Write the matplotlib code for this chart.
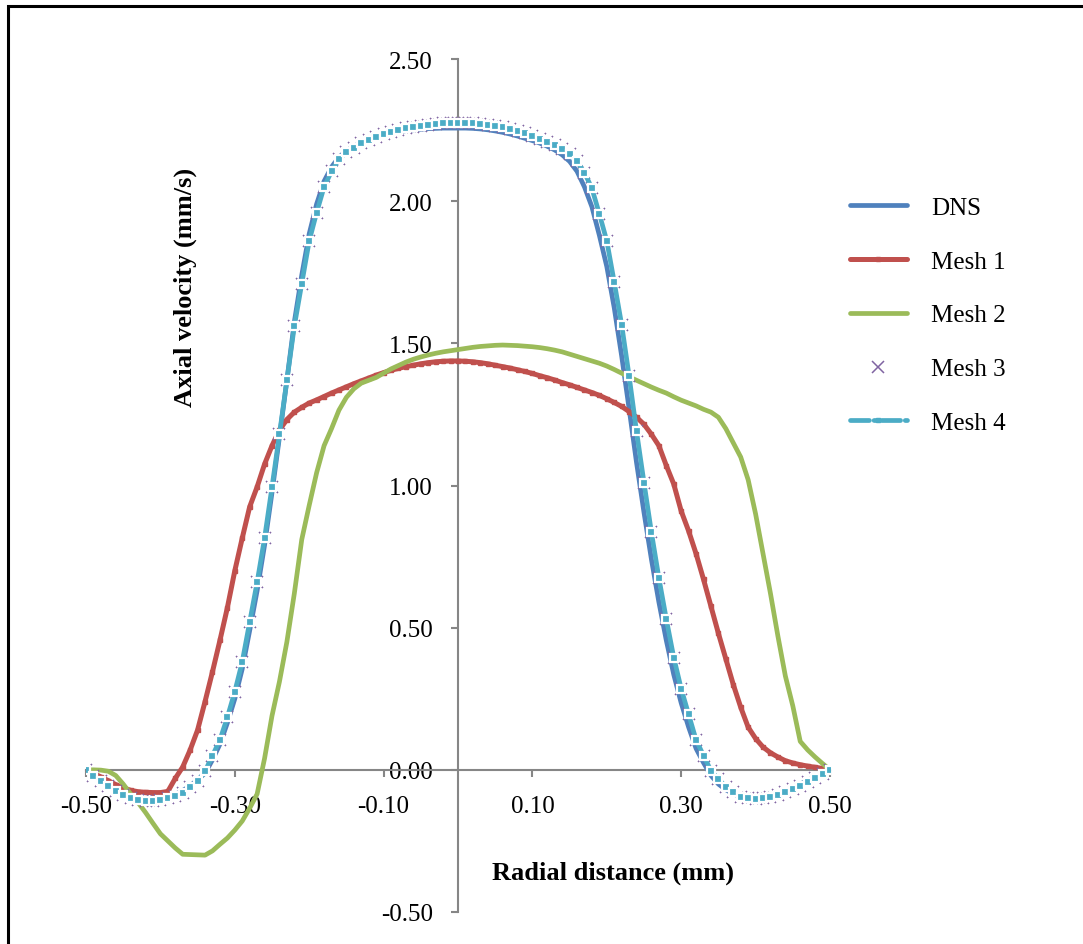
import numpy as np
import matplotlib
matplotlib.use("Agg")
import matplotlib.pyplot as plt
from matplotlib.lines import Line2D
from matplotlib.patches import Rectangle

plt.rcParams['font.family'] = ['Liberation Serif', 'DejaVu Serif']

# radial positions, 0.01 mm step
radial = np.round(np.arange(-50, 51) / 100.0, 2)

dns = [0.000, -0.018, -0.037, -0.055, -0.071, -0.085, -0.096, -0.103, -0.106, -0.106,
       -0.103, -0.096, -0.086, -0.073, -0.056, -0.035, -0.012, 0.035, 0.090, 0.165,
       0.250, 0.355, 0.490, 0.630, 0.790, 0.975, 1.170, 1.370, 1.575, 1.740,
       1.885, 1.990, 2.070, 2.120, 2.155, 2.177, 2.193, 2.206, 2.217, 2.226,
       2.233, 2.239, 2.244, 2.248, 2.251, 2.253, 2.255, 2.256, 2.257, 2.257,
       2.257, 2.257, 2.256, 2.254, 2.251, 2.247, 2.242, 2.236, 2.229, 2.221,
       2.213, 2.204, 2.193, 2.180, 2.163, 2.140, 2.105, 2.050, 1.980, 1.880,
       1.770, 1.625, 1.455, 1.270, 1.080, 0.905, 0.740, 0.590, 0.455, 0.335,
       0.235, 0.150, 0.075, 0.025, -0.020, -0.050, -0.070, -0.085, -0.094, -0.099,
       -0.100, -0.097, -0.091, -0.083, -0.073, -0.062, -0.050, -0.037, -0.025, -0.012,
       0.000]

mesh1 = [0.000, -0.012, -0.025, -0.038, -0.052, -0.063, -0.072, -0.077, -0.079, -0.080,
         -0.080, -0.076, -0.030, 0.010, 0.070, 0.140, 0.240, 0.345, 0.455, 0.570,
         0.700, 0.815, 0.925, 0.995, 1.075, 1.140, 1.195, 1.232, 1.258, 1.275,
         1.290, 1.301, 1.313, 1.325, 1.336, 1.347, 1.358, 1.368, 1.378, 1.388,
         1.397, 1.405, 1.412, 1.418, 1.423, 1.428, 1.432, 1.435, 1.437, 1.438,
         1.438, 1.437, 1.435, 1.432, 1.428, 1.423, 1.418, 1.413, 1.407, 1.401,
         1.394, 1.386, 1.379, 1.371, 1.362, 1.354, 1.345, 1.336, 1.327, 1.317,
         1.305, 1.292, 1.278, 1.260, 1.240, 1.215, 1.180, 1.140, 1.070, 1.005,
         0.910, 0.840, 0.760, 0.670, 0.575, 0.480, 0.390, 0.300, 0.220, 0.150,
         0.110, 0.080, 0.060, 0.045, 0.032, 0.024, 0.018, 0.013, 0.009, 0.005,
         0.000]

mesh2 = [0.000, 0.000, -0.001, -0.005, -0.020, -0.050, -0.085, -0.115, -0.150, -0.188,
         -0.225, -0.250, -0.275, -0.297, -0.298, -0.299, -0.300, -0.285, -0.262, -0.240,
         -0.212, -0.180, -0.135, -0.085, 0.040, 0.190, 0.310, 0.450, 0.620, 0.810,
         0.930, 1.045, 1.140, 1.200, 1.265, 1.310, 1.340, 1.360, 1.370, 1.380,
         1.395, 1.410, 1.422, 1.434, 1.444, 1.452, 1.459, 1.465, 1.470, 1.474,
         1.478, 1.482, 1.486, 1.489, 1.491, 1.493, 1.494, 1.493, 1.492, 1.490,
         1.488, 1.485, 1.481, 1.476, 1.470, 1.462, 1.454, 1.446, 1.438, 1.430,
         1.420, 1.408, 1.395, 1.382, 1.370, 1.358, 1.346, 1.335, 1.325, 1.312,
         1.300, 1.290, 1.280, 1.268, 1.258, 1.240, 1.200, 1.150, 1.100, 1.020,
         0.900, 0.760, 0.620, 0.470, 0.330, 0.225, 0.100, 0.070, 0.045, 0.022,
         0.000]

mesh4 = [0.000, -0.020, -0.040, -0.057, -0.074, -0.088, -0.099, -0.106, -0.109, -0.109,
         -0.106, -0.100, -0.091, -0.080, -0.060, -0.040, -0.005, 0.050, 0.105, 0.185,
         0.275, 0.380, 0.520, 0.660, 0.815, 0.995, 1.180, 1.370, 1.560, 1.710,
         1.860, 1.960, 2.050, 2.105, 2.148, 2.172, 2.188, 2.203, 2.216, 2.226,
         2.235, 2.243, 2.250, 2.256, 2.261, 2.265, 2.269, 2.272, 2.274, 2.275,
         2.275, 2.275, 2.274, 2.272, 2.269, 2.265, 2.260, 2.254, 2.247, 2.239,
         2.230, 2.220, 2.208, 2.196, 2.182, 2.165, 2.140, 2.100, 2.045, 1.955,
         1.860, 1.715, 1.565, 1.385, 1.190, 1.010, 0.835, 0.675, 0.530, 0.395,
         0.285, 0.195, 0.105, 0.050, -0.003, -0.032, -0.060, -0.078, -0.094, -0.100,
         -0.103, -0.100, -0.097, -0.090, -0.079, -0.068, -0.056, -0.043, -0.028, -0.013,
         0.000]

# Mesh 3 sits on top of Mesh 4 everywhere in the picture
mesh3 = list(mesh4)

c_dns, c_m1, c_m2, c_m3, c_m4 = '#4F81BD', '#C0504D', '#9BBB59', '#8064A2', '#4BACC6'
grey = '#868686'

fig = plt.figure(figsize=(10.83, 9.45), dpi=100)
ax = fig.add_axes([86 / 1083, 32 / 945, 744 / 1083, 853 / 945])

ax.plot(radial, dns, color=c_dns, lw=3.4, solid_capstyle='round', zorder=3)
ax.plot(radial, mesh1, color=c_m1, lw=3.6, marker='s', ms=3.2, zorder=4)
ax.plot(radial, mesh2, color=c_m2, lw=3.4, zorder=5)
ax.plot(radial, mesh3, ls='none', marker='x', ms=8, mew=1.1, color=c_m3, zorder=6)
ax.plot(radial, mesh4, color=c_m4, lw=3.4, marker='s', ms=6, mfc=c_m4, mec='white', mew=1.6, zorder=7)

ax.set_xlim(-0.5, 0.5)
ax.set_ylim(-0.5, 2.5)
ax.set_xticks(np.arange(-0.5, 0.51, 0.2))
ax.set_yticks(np.arange(-0.5, 2.51, 0.5))
ax.xaxis.set_major_formatter(matplotlib.ticker.FormatStrFormatter('%.2f'))
ax.yaxis.set_major_formatter(matplotlib.ticker.FormatStrFormatter('%.2f'))

for s in ['top', 'right']:
    ax.spines[s].set_visible(False)
ax.spines['left'].set_position(('data', 0))
ax.spines['bottom'].set_position(('data', 0))
for s in ['left', 'bottom']:
    ax.spines[s].set_color(grey)
    ax.spines[s].set_linewidth(1.5)
ax.tick_params(axis='both', direction='out', length=5, width=1.5, color=grey,
               labelsize=18, labelcolor='black')
ax.tick_params(axis='x', pad=13)
ax.tick_params(axis='y', pad=13)
ax.patch.set_alpha(0)

fig.text(185 / 1083, 1 - 287 / 945, 'Axial velocity (mm/s)', rotation=90,
         ha='center', va='center', fontsize=19, fontweight='bold')
fig.text(613 / 1083, 1 - 873 / 945, 'Radial distance (mm)',
         ha='center', va='center', fontsize=19, fontweight='bold')

handles = [
    Line2D([], [], color=c_dns, lw=3.4, solid_capstyle='round'),
    Line2D([], [], color=c_m1, lw=3.6, marker='s', ms=3.2, solid_capstyle='round'),
    Line2D([], [], color=c_m2, lw=3.4, solid_capstyle='round'),
    Line2D([], [], ls='none', marker='x', ms=8, mew=1.1, color=c_m3),
    Line2D([], [], color=c_m4, lw=3.4, ls=(0, (4, 1, 0.6, 1)), marker='s', ms=2.5,
           mfc=c_m4, mec=c_m4, dash_capstyle='round'),
]
labels = ['DNS', 'Mesh 1', 'Mesh 2', 'Mesh 3', 'Mesh 4']
fig.legend(handles, labels, loc='upper left', bbox_to_anchor=(827 / 1083, 1 - 175 / 945),
           frameon=False, fontsize=18, handlelength=2.3, handletextpad=0.96,
           labelspacing=1.25, numpoints=1)

# outer chart frame (only the top and left edges are inside the crop)
fig.patches.append(Rectangle((8 / 1083, -0.1), 1.2, 1.1 - 7 / 945,
                             transform=fig.transFigure, fill=False,
                             edgecolor='black', lw=2.2, clip_on=False))

fig.savefig('out.png', dpi=100)
